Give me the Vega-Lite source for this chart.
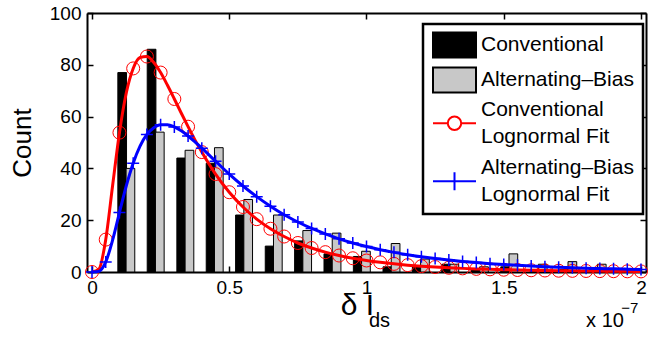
{
 "$schema": "https://vega.github.io/schema/vega-lite/v6.json",
 "width": 559, "height": 259,
 "autosize": "none",
 "padding": {"left": 87, "top": 13, "right": 16, "bottom": 65},
 "background": "white",
 "config": {
  "font": "Liberation Sans",
  "view": {"stroke": null},
  "axis": {"domainColor": "black", "domainWidth": 2, "tickColor": "black", "tickWidth": 1.5, "tickSize": -6, "labelColor": "black", "labelFontSize": 19, "labelFont": "Liberation Sans", "grid": false, "titleFontSize": 26, "titleFont": "Liberation Sans", "titleFontWeight": "normal", "titleColor": "black"},
  "axisX": {"labelPadding": 12, "labelFlushOffset": 5},
  "axisY": {"labelPadding": 12, "titlePadding": 14},
  "legend": {"orient": "none", "legendX": 336, "legendY": 11, "padding": 9, "strokeColor": "black", "strokeWidth": 2.5, "fillColor": "white", "labelFontSize": 21, "labelFont": "Liberation Sans", "labelColor": "black", "labelLimit": 0, "labelOffset": 25, "symbolSize": 484, "symbolStrokeWidth": 2, "rowPadding": 1, "cornerRadius": 0},
  "style": {"guide-label": {"lineHeight": 27}}
 },
 "datasets": {
  "bars": [
   {"series": "Conventional", "x": 0.110, "count": 77},
   {"series": "Conventional", "x": 0.217, "count": 86},
   {"series": "Conventional", "x": 0.325, "count": 44},
   {"series": "Conventional", "x": 0.432, "count": 42},
   {"series": "Conventional", "x": 0.539, "count": 22},
   {"series": "Conventional", "x": 0.647, "count": 10},
   {"series": "Conventional", "x": 0.754, "count": 12},
   {"series": "Conventional", "x": 0.861, "count": 7},
   {"series": "Conventional", "x": 0.968, "count": 6},
   {"series": "Conventional", "x": 1.076, "count": 2},
   {"series": "Conventional", "x": 1.183, "count": 2},
   {"series": "Conventional", "x": 1.290, "count": 3},
   {"series": "Conventional", "x": 1.398, "count": 1},
   {"series": "Conventional", "x": 1.505, "count": 2},
   {"series": "Conventional", "x": 1.612, "count": 1},
   {"series": "Conventional", "x": 1.720, "count": 1},
   {"series": "Conventional", "x": 1.827, "count": 1},
   {"series": "Conventional", "x": 1.934, "count": 1},
   {"series": "Alternating–Bias", "x": 0.140, "count": 40},
   {"series": "Alternating–Bias", "x": 0.247, "count": 54},
   {"series": "Alternating–Bias", "x": 0.355, "count": 47},
   {"series": "Alternating–Bias", "x": 0.462, "count": 48},
   {"series": "Alternating–Bias", "x": 0.569, "count": 28},
   {"series": "Alternating–Bias", "x": 0.677, "count": 22},
   {"series": "Alternating–Bias", "x": 0.784, "count": 16},
   {"series": "Alternating–Bias", "x": 0.891, "count": 15},
   {"series": "Alternating–Bias", "x": 0.998, "count": 8},
   {"series": "Alternating–Bias", "x": 1.106, "count": 11},
   {"series": "Alternating–Bias", "x": 1.213, "count": 5},
   {"series": "Alternating–Bias", "x": 1.320, "count": 3},
   {"series": "Alternating–Bias", "x": 1.428, "count": 2},
   {"series": "Alternating–Bias", "x": 1.535, "count": 7},
   {"series": "Alternating–Bias", "x": 1.642, "count": 3},
   {"series": "Alternating–Bias", "x": 1.750, "count": 4},
   {"series": "Alternating–Bias", "x": 1.857, "count": 3},
   {"series": "Alternating–Bias", "x": 1.964, "count": 1}
  ],
  "fits": [
   {"series": "Conventional Lognormal Fit", "x": 0, "y": 0},
   {"series": "Conventional Lognormal Fit", "x": 0.025, "y": 1.05},
   {"series": "Conventional Lognormal Fit", "x": 0.05, "y": 12.5},
   {"series": "Conventional Lognormal Fit", "x": 0.075, "y": 33.3},
   {"series": "Conventional Lognormal Fit", "x": 0.1, "y": 53.8},
   {"series": "Conventional Lognormal Fit", "x": 0.125, "y": 69.2},
   {"series": "Conventional Lognormal Fit", "x": 0.15, "y": 78.6},
   {"series": "Conventional Lognormal Fit", "x": 0.175, "y": 82.8},
   {"series": "Conventional Lognormal Fit", "x": 0.2, "y": 83.2},
   {"series": "Conventional Lognormal Fit", "x": 0.225, "y": 80.9},
   {"series": "Conventional Lognormal Fit", "x": 0.25, "y": 77.0},
   {"series": "Conventional Lognormal Fit", "x": 0.275, "y": 72.1},
   {"series": "Conventional Lognormal Fit", "x": 0.3, "y": 66.8},
   {"series": "Conventional Lognormal Fit", "x": 0.325, "y": 61.4},
   {"series": "Conventional Lognormal Fit", "x": 0.35, "y": 56.1},
   {"series": "Conventional Lognormal Fit", "x": 0.375, "y": 51.0},
   {"series": "Conventional Lognormal Fit", "x": 0.4, "y": 46.3},
   {"series": "Conventional Lognormal Fit", "x": 0.45, "y": 37.8},
   {"series": "Conventional Lognormal Fit", "x": 0.5, "y": 30.8},
   {"series": "Conventional Lognormal Fit", "x": 0.55, "y": 25.1},
   {"series": "Conventional Lognormal Fit", "x": 0.6, "y": 20.4},
   {"series": "Conventional Lognormal Fit", "x": 0.65, "y": 16.7},
   {"series": "Conventional Lognormal Fit", "x": 0.7, "y": 13.7},
   {"series": "Conventional Lognormal Fit", "x": 0.75, "y": 11.2},
   {"series": "Conventional Lognormal Fit", "x": 0.8, "y": 9.26},
   {"series": "Conventional Lognormal Fit", "x": 0.85, "y": 7.66},
   {"series": "Conventional Lognormal Fit", "x": 0.9, "y": 6.36},
   {"series": "Conventional Lognormal Fit", "x": 0.95, "y": 5.30},
   {"series": "Conventional Lognormal Fit", "x": 1.0, "y": 4.44},
   {"series": "Conventional Lognormal Fit", "x": 1.05, "y": 3.73},
   {"series": "Conventional Lognormal Fit", "x": 1.1, "y": 3.14},
   {"series": "Conventional Lognormal Fit", "x": 1.15, "y": 2.65},
   {"series": "Conventional Lognormal Fit", "x": 1.2, "y": 2.25},
   {"series": "Conventional Lognormal Fit", "x": 1.25, "y": 1.91},
   {"series": "Conventional Lognormal Fit", "x": 1.3, "y": 1.63},
   {"series": "Conventional Lognormal Fit", "x": 1.35, "y": 1.40},
   {"series": "Conventional Lognormal Fit", "x": 1.4, "y": 1.20},
   {"series": "Conventional Lognormal Fit", "x": 1.45, "y": 1.03},
   {"series": "Conventional Lognormal Fit", "x": 1.5, "y": 0.89},
   {"series": "Conventional Lognormal Fit", "x": 1.55, "y": 0.77},
   {"series": "Conventional Lognormal Fit", "x": 1.6, "y": 0.67},
   {"series": "Conventional Lognormal Fit", "x": 1.65, "y": 0.58},
   {"series": "Conventional Lognormal Fit", "x": 1.7, "y": 0.50},
   {"series": "Conventional Lognormal Fit", "x": 1.75, "y": 0.44},
   {"series": "Conventional Lognormal Fit", "x": 1.8, "y": 0.39},
   {"series": "Conventional Lognormal Fit", "x": 1.85, "y": 0.34},
   {"series": "Conventional Lognormal Fit", "x": 1.9, "y": 0.30},
   {"series": "Conventional Lognormal Fit", "x": 1.95, "y": 0.26},
   {"series": "Conventional Lognormal Fit", "x": 2.0, "y": 0.23},
   {"series": "Alternating–Bias Lognormal Fit", "x": 0, "y": 0},
   {"series": "Alternating–Bias Lognormal Fit", "x": 0.025, "y": 0.25},
   {"series": "Alternating–Bias Lognormal Fit", "x": 0.05, "y": 3.87},
   {"series": "Alternating–Bias Lognormal Fit", "x": 0.075, "y": 12.3},
   {"series": "Alternating–Bias Lognormal Fit", "x": 0.1, "y": 22.95},
   {"series": "Alternating–Bias Lognormal Fit", "x": 0.125, "y": 33.3},
   {"series": "Alternating–Bias Lognormal Fit", "x": 0.15, "y": 42.0},
   {"series": "Alternating–Bias Lognormal Fit", "x": 0.175, "y": 48.6},
   {"series": "Alternating–Bias Lognormal Fit", "x": 0.2, "y": 53.1},
   {"series": "Alternating–Bias Lognormal Fit", "x": 0.225, "y": 55.7},
   {"series": "Alternating–Bias Lognormal Fit", "x": 0.25, "y": 56.9},
   {"series": "Alternating–Bias Lognormal Fit", "x": 0.275, "y": 56.9},
   {"series": "Alternating–Bias Lognormal Fit", "x": 0.3, "y": 56.0},
   {"series": "Alternating–Bias Lognormal Fit", "x": 0.325, "y": 54.5},
   {"series": "Alternating–Bias Lognormal Fit", "x": 0.35, "y": 52.5},
   {"series": "Alternating–Bias Lognormal Fit", "x": 0.375, "y": 50.2},
   {"series": "Alternating–Bias Lognormal Fit", "x": 0.4, "y": 47.8},
   {"series": "Alternating–Bias Lognormal Fit", "x": 0.45, "y": 42.8},
   {"series": "Alternating–Bias Lognormal Fit", "x": 0.5, "y": 37.8},
   {"series": "Alternating–Bias Lognormal Fit", "x": 0.55, "y": 33.2},
   {"series": "Alternating–Bias Lognormal Fit", "x": 0.6, "y": 29.1},
   {"series": "Alternating–Bias Lognormal Fit", "x": 0.65, "y": 25.4},
   {"series": "Alternating–Bias Lognormal Fit", "x": 0.7, "y": 22.1},
   {"series": "Alternating–Bias Lognormal Fit", "x": 0.75, "y": 19.3},
   {"series": "Alternating–Bias Lognormal Fit", "x": 0.8, "y": 16.8},
   {"series": "Alternating–Bias Lognormal Fit", "x": 0.85, "y": 14.7},
   {"series": "Alternating–Bias Lognormal Fit", "x": 0.9, "y": 12.8},
   {"series": "Alternating–Bias Lognormal Fit", "x": 0.95, "y": 11.2},
   {"series": "Alternating–Bias Lognormal Fit", "x": 1.0, "y": 9.82},
   {"series": "Alternating–Bias Lognormal Fit", "x": 1.05, "y": 8.62},
   {"series": "Alternating–Bias Lognormal Fit", "x": 1.1, "y": 7.58},
   {"series": "Alternating–Bias Lognormal Fit", "x": 1.15, "y": 6.67},
   {"series": "Alternating–Bias Lognormal Fit", "x": 1.2, "y": 5.89},
   {"series": "Alternating–Bias Lognormal Fit", "x": 1.25, "y": 5.20},
   {"series": "Alternating–Bias Lognormal Fit", "x": 1.3, "y": 4.61},
   {"series": "Alternating–Bias Lognormal Fit", "x": 1.35, "y": 4.09},
   {"series": "Alternating–Bias Lognormal Fit", "x": 1.4, "y": 3.63},
   {"series": "Alternating–Bias Lognormal Fit", "x": 1.45, "y": 3.23},
   {"series": "Alternating–Bias Lognormal Fit", "x": 1.5, "y": 2.88},
   {"series": "Alternating–Bias Lognormal Fit", "x": 1.55, "y": 2.57},
   {"series": "Alternating–Bias Lognormal Fit", "x": 1.6, "y": 2.30},
   {"series": "Alternating–Bias Lognormal Fit", "x": 1.65, "y": 2.06},
   {"series": "Alternating–Bias Lognormal Fit", "x": 1.7, "y": 1.85},
   {"series": "Alternating–Bias Lognormal Fit", "x": 1.75, "y": 1.66},
   {"series": "Alternating–Bias Lognormal Fit", "x": 1.8, "y": 1.49},
   {"series": "Alternating–Bias Lognormal Fit", "x": 1.85, "y": 1.35},
   {"series": "Alternating–Bias Lognormal Fit", "x": 1.9, "y": 1.21},
   {"series": "Alternating–Bias Lognormal Fit", "x": 1.95, "y": 1.10},
   {"series": "Alternating–Bias Lognormal Fit", "x": 2.0, "y": 1.0}
  ]
 },
 "layer": [
  {
   "layer": [
    {
     "data": {"name": "fits"},
     "transform": [{"filter": "false"}],
     "mark": {"type": "point", "filled": true, "opacity": 1},
     "encoding": {
      "x": {"field": "x", "type": "quantitative", "scale": {"domain": [0, 2], "nice": false, "zero": false}, "axis": {"values": [0, 0.5, 1, 1.5, 2], "format": "~g", "title": null, "labelFlushOffset": 5}},
      "y": {"field": "y", "type": "quantitative", "scale": {"domain": [0, 100], "nice": false}, "axis": {"values": [0, 20, 40, 60, 80, 100], "title": "Count"}},
      "fill": {"field": "series", "type": "nominal", "scale": {"domain": ["Conventional", "Alternating–Bias", "Conventional Lognormal Fit", "Alternating–Bias Lognormal Fit"], "range": ["black", "#c8c8c8", "transparent", "transparent"]}, "legend": {"title": null, "labelExpr": "indexof(datum.label, ' Lognormal') > 0 ? [replace(datum.label, ' Lognormal Fit', ''), 'Lognormal Fit'] : datum.label"}},
      "stroke": {"field": "series", "type": "nominal", "scale": {"domain": ["Conventional", "Alternating–Bias", "Conventional Lognormal Fit", "Alternating–Bias Lognormal Fit"], "range": ["black", "black", "red", "blue"]}, "legend": {"title": null, "labelExpr": "indexof(datum.label, ' Lognormal') > 0 ? [replace(datum.label, ' Lognormal Fit', ''), 'Lognormal Fit'] : datum.label"}},
      "shape": {"field": "series", "type": "nominal", "scale": {"domain": ["Conventional", "Alternating–Bias", "Conventional Lognormal Fit", "Alternating–Bias Lognormal Fit"], "range": ["M-1,-1.14H2.91V1.14H-1Z", "M-1,-1.14H2.91V1.14H-1Z", "M0.955,-0.68M0.955,3.68M-1,1.2H0.345A0.61,0.61,0,1,1,1.565,1.2A0.61,0.61,0,1,1,0.345,1.2M1.565,1.2H2.91", "M0.955,-0.68M-1,1.2H2.91M0.955,0.38V2.02"]}, "legend": {"title": null, "labelExpr": "indexof(datum.label, ' Lognormal') > 0 ? [replace(datum.label, ' Lognormal Fit', ''), 'Lognormal Fit'] : datum.label"}}
     }
    },
    {
     "data": {"name": "bars"},
     "mark": {"type": "bar", "size": 8.7, "strokeWidth": 1},
     "encoding": {
      "x": {"field": "x", "type": "quantitative"},
      "y": {"field": "count", "type": "quantitative", "stack": null},
      "fill": {"field": "series", "type": "nominal"},
      "stroke": {"field": "series", "type": "nominal"}
     }
    },
    {
     "data": {"name": "fits"},
     "transform": [{"filter": "datum.series == 'Conventional Lognormal Fit'"}],
     "mark": {"type": "line", "strokeWidth": 3, "interpolate": "monotone"},
     "encoding": {
      "x": {"field": "x", "type": "quantitative"},
      "y": {"field": "y", "type": "quantitative"},
      "stroke": {"field": "series", "type": "nominal"}
     }
    },
    {
     "data": {"name": "fits"},
     "transform": [{"filter": "datum.series == 'Conventional Lognormal Fit' && abs(datum.x * 20 - round(datum.x * 20)) < 0.001"}],
     "mark": {"type": "point", "shape": "circle", "size": 169, "strokeWidth": 1, "filled": false, "opacity": 1},
     "encoding": {
      "x": {"field": "x", "type": "quantitative"},
      "y": {"field": "y", "type": "quantitative"},
      "stroke": {"field": "series", "type": "nominal"}
     }
    },
    {
     "data": {"name": "fits"},
     "transform": [{"filter": "datum.series == 'Alternating–Bias Lognormal Fit'"}],
     "mark": {"type": "line", "strokeWidth": 3, "interpolate": "monotone"},
     "encoding": {
      "x": {"field": "x", "type": "quantitative"},
      "y": {"field": "y", "type": "quantitative"},
      "stroke": {"field": "series", "type": "nominal"}
     }
    },
    {
     "data": {"name": "fits"},
     "transform": [{"filter": "datum.series == 'Alternating–Bias Lognormal Fit' && abs(datum.x * 20 - round(datum.x * 20)) < 0.001"}],
     "mark": {"type": "point", "shape": "M-1,0H1M0,-1V1", "size": 144, "strokeWidth": 1.5, "filled": false, "opacity": 1},
     "encoding": {
      "x": {"field": "x", "type": "quantitative"},
      "y": {"field": "y", "type": "quantitative"},
      "stroke": {"field": "series", "type": "nominal"}
     }
    },
    {
     "data": {"values": [{}]},
     "mark": {"type": "text", "text": "δ I", "align": "left", "baseline": "alphabetic", "fontSize": 30, "font": "Liberation Sans", "fill": "black"},
     "encoding": {"x": {"datum": 0.906, "type": "quantitative"}, "y": {"datum": -16.6, "type": "quantitative"}}
    },
    {
     "data": {"values": [{}]},
     "mark": {"type": "text", "text": "ds", "align": "left", "baseline": "alphabetic", "fontSize": 20, "font": "Liberation Sans", "fill": "black"},
     "encoding": {"x": {"datum": 1.009, "type": "quantitative"}, "y": {"datum": -21.2, "type": "quantitative"}}
    },
    {
     "data": {"values": [{}]},
     "mark": {"type": "text", "text": "x 10", "align": "left", "baseline": "alphabetic", "fontSize": 20, "font": "Liberation Sans", "fill": "black"},
     "encoding": {"x": {"datum": 1.80, "type": "quantitative"}, "y": {"datum": -21.2, "type": "quantitative"}}
    },
    {
     "data": {"values": [{}]},
     "mark": {"type": "text", "text": "−7", "align": "left", "baseline": "alphabetic", "fontSize": 15, "font": "Liberation Sans", "fill": "black"},
     "encoding": {"x": {"datum": 1.928, "type": "quantitative"}, "y": {"datum": -15.8, "type": "quantitative"}}
    }
   ]
  },
  {
   "data": {"name": "fits"},
   "transform": [{"filter": "false"}],
   "mark": {"type": "point", "opacity": 0},
   "encoding": {
    "x": {"field": "x", "type": "quantitative", "axis": {"orient": "top", "labels": false, "values": [0, 0.5, 1, 1.5, 2], "title": null}},
    "y": {"field": "y", "type": "quantitative", "axis": {"orient": "right", "labels": false, "values": [0, 20, 40, 60, 80, 100], "title": null}}
   }
  }
 ],
 "resolve": {"axis": {"x": "independent", "y": "independent"}}
}
